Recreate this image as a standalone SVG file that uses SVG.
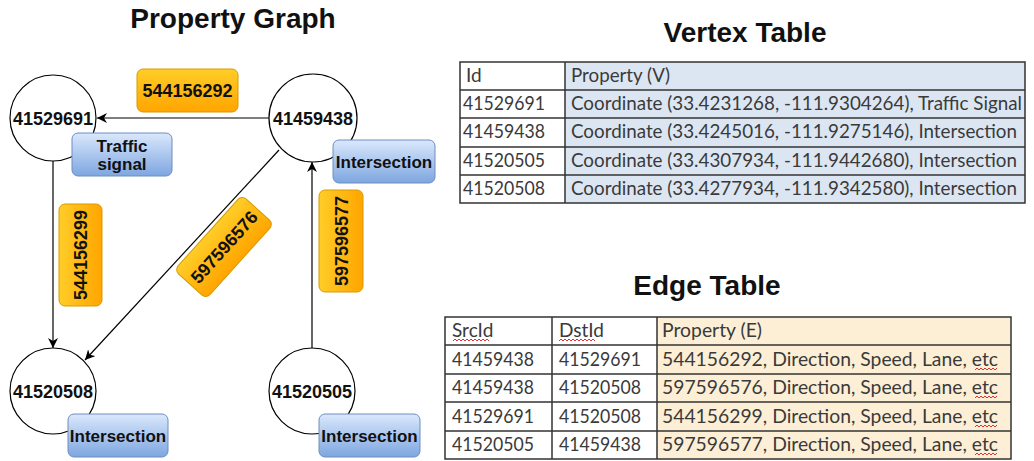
<svg xmlns="http://www.w3.org/2000/svg" width="1034" height="461" viewBox="0 0 1034 461">
<defs>
<linearGradient id="gOr" x1="0" y1="0" x2="0" y2="1"><stop offset="0" stop-color="#ffcd28"/><stop offset="1" stop-color="#ffa500"/></linearGradient>
<linearGradient id="gBl" x1="0" y1="0" x2="0" y2="1"><stop offset="0" stop-color="#dae8fc"/><stop offset="1" stop-color="#7ea6e0"/></linearGradient>
<marker id="arr" viewBox="0 0 10 10" refX="10" refY="5" markerWidth="10" markerHeight="10" markerUnits="userSpaceOnUse" orient="auto"><path d="M0,0 L10,5 L0,10 L3,5 Z" fill="#000"/></marker>
</defs>
<style>
.title{font-family:"Liberation Sans",Arial,sans-serif;font-weight:bold;font-size:28px;fill:#111;text-anchor:middle}
.circ{fill:#fff;stroke:#000;stroke-width:1.2}
.num{font-family:"Liberation Sans",Arial,sans-serif;font-weight:bold;font-size:18px;fill:#111;text-anchor:middle}
.lbl{fill:url(#gBl);stroke:#6c8ebf;stroke-width:1}
.lt{font-family:"Liberation Sans",Arial,sans-serif;font-weight:bold;font-size:17px;fill:#111;text-anchor:middle}
.ob{fill:url(#gOr);stroke:#d79b00;stroke-width:1}
.edge{stroke:#000;stroke-width:1.2;fill:none;marker-end:url(#arr)}
.tb{stroke:#333;stroke-width:1.5;fill:none}
.tt{font-family:Lato,Carlito,"Liberation Sans",sans-serif;font-size:19px;fill:#3a3a3a}
.sq{stroke:#e03030;stroke-width:1;fill:none}
</style>
<rect width="1034" height="461" fill="#fff"/>
<text class="title" x="233" y="28">Property Graph</text>
<text class="title" x="745" y="42">Vertex Table</text>
<text class="title" x="707" y="295">Edge Table</text>

<g id="connectors">
<line class="edge" x1="269" y1="118" x2="97" y2="118"/>
<line class="edge" x1="53" y1="161" x2="53" y2="348"/>
<line class="edge" x1="279" y1="150" x2="85" y2="360"/>
<line class="edge" x1="312" y1="348" x2="312" y2="162"/>
</g>

<g id="elabel-544156292"><rect class="ob" x="137" y="69" width="101" height="43" rx="6"/><text class="num" x="187.5" y="97">544156292</text></g>
<g id="elabel-544156299" transform="translate(80.5,255) rotate(-90)"><rect class="ob" x="-51" y="-21.5" width="102" height="43" rx="6"/><text class="num" x="0" y="6.5">544156299</text></g>
<g id="elabel-597596577" transform="translate(341,241) rotate(-90)"><rect class="ob" x="-51" y="-22" width="102" height="44" rx="6"/><text class="num" x="0" y="6.5">597596577</text></g>
<g id="elabel-597596576" transform="translate(224,247) rotate(-48)"><rect class="ob" x="-50.5" y="-21.5" width="101" height="43" rx="6"/><text class="num" x="0" y="6.5">597596576</text></g>

<g id="node-41529691"><circle class="circ" cx="53" cy="118" r="43"/><text class="num" x="53" y="125">41529691</text>
<rect class="lbl" x="72" y="133" width="100" height="43" rx="6"/><text class="lt" x="122" y="152">Traffic</text><text class="lt" x="122" y="170">signal</text></g>
<g id="node-41459438"><circle class="circ" cx="313" cy="118" r="44"/><text class="num" x="313" y="125">41459438</text>
<rect class="lbl" x="333" y="140" width="102" height="43" rx="6"/><text class="lt" x="384" y="168">Intersection</text></g>
<g id="node-41520508"><circle class="circ" cx="53" cy="391" r="43"/><text class="num" x="53" y="398">41520508</text>
<rect class="lbl" x="68" y="414" width="100" height="43" rx="6"/><text class="lt" x="118" y="442">Intersection</text></g>
<g id="node-41520505"><circle class="circ" cx="312" cy="391" r="43"/><text class="num" x="312" y="398">41520505</text>
<rect class="lbl" x="319" y="414" width="101" height="43" rx="6"/><text class="lt" x="369.5" y="442">Intersection</text></g>

<g id="vertex-table">
<rect x="565" y="62" width="460" height="141" fill="#dce6f2"/>
<rect class="tb" x="460" y="62" width="565" height="141"/>
<path class="tb" d="M460,90H1025M460,118H1025M460,147H1025M460,175H1025M565,62V203"/>
<text class="tt" x="466" y="82">Id</text>
<text class="tt" x="571" y="82" textLength="99" lengthAdjust="spacingAndGlyphs">Property (V)</text>
<text class="tt" x="463" y="110" textLength="82" lengthAdjust="spacingAndGlyphs">41529691</text>
<text class="tt" x="571" y="110" textLength="451" lengthAdjust="spacingAndGlyphs">Coordinate (33.4231268, -111.9304264), Traffic Signal</text>
<text class="tt" x="463" y="138" textLength="82" lengthAdjust="spacingAndGlyphs">41459438</text>
<text class="tt" x="571" y="138" textLength="446" lengthAdjust="spacingAndGlyphs">Coordinate (33.4245016, -111.9275146), Intersection</text>
<text class="tt" x="463" y="167" textLength="82" lengthAdjust="spacingAndGlyphs">41520505</text>
<text class="tt" x="571" y="167" textLength="446" lengthAdjust="spacingAndGlyphs">Coordinate (33.4307934, -111.9442680), Intersection</text>
<text class="tt" x="463" y="195" textLength="82" lengthAdjust="spacingAndGlyphs">41520508</text>
<text class="tt" x="571" y="195" textLength="446" lengthAdjust="spacingAndGlyphs">Coordinate (33.4277934, -111.9342580), Intersection</text>
</g>

<g id="edge-table">
<rect x="657" y="317" width="354" height="142" fill="#fdefd5"/>
<rect class="tb" x="445" y="317" width="566" height="142"/>
<path class="tb" d="M445,345H1011M445,374H1011M445,402H1011M445,431H1011M552,317V459M657,317V459"/>
<text class="tt" x="452" y="337">SrcId</text>
<text class="tt" x="559" y="337">DstId</text>
<text class="tt" x="662" y="337" textLength="100" lengthAdjust="spacingAndGlyphs">Property (E)</text>
<text class="tt" x="452" y="366" textLength="82" lengthAdjust="spacingAndGlyphs">41459438</text>
<text class="tt" x="559" y="366" textLength="82" lengthAdjust="spacingAndGlyphs">41529691</text>
<text class="tt" x="662" y="366" textLength="336" lengthAdjust="spacingAndGlyphs">544156292, Direction, Speed, Lane, etc</text>
<text class="tt" x="452" y="394" textLength="82" lengthAdjust="spacingAndGlyphs">41459438</text>
<text class="tt" x="559" y="394" textLength="82" lengthAdjust="spacingAndGlyphs">41520508</text>
<text class="tt" x="662" y="394" textLength="336" lengthAdjust="spacingAndGlyphs">597596576, Direction, Speed, Lane, etc</text>
<text class="tt" x="452" y="423" textLength="82" lengthAdjust="spacingAndGlyphs">41529691</text>
<text class="tt" x="559" y="423" textLength="82" lengthAdjust="spacingAndGlyphs">41520508</text>
<text class="tt" x="662" y="423" textLength="336" lengthAdjust="spacingAndGlyphs">544156299, Direction, Speed, Lane, etc</text>
<text class="tt" x="452" y="451" textLength="82" lengthAdjust="spacingAndGlyphs">41520505</text>
<text class="tt" x="559" y="451" textLength="82" lengthAdjust="spacingAndGlyphs">41459438</text>
<text class="tt" x="662" y="451" textLength="336" lengthAdjust="spacingAndGlyphs">597596577, Direction, Speed, Lane, etc</text>
<path class="sq" d="M453,341l2,-2l2,2l2,-2l2,2l2,-2l2,2l2,-2l2,2l2,-2l2,2l2,-2l2,2l2,-2l2,2l2,-2l2,2l2,-2l2,2M559,341l2,-2l2,2l2,-2l2,2l2,-2l2,2l2,-2l2,2l2,-2l2,2l2,-2l2,2l2,-2l2,2l2,-2l2,2l2,-2l2,2"/>
<path class="sq" d="M975,370l2,-2l2,2l2,-2l2,2l2,-2l2,2l2,-2l2,2l2,-2l2,2l2,-2M975,398l2,-2l2,2l2,-2l2,2l2,-2l2,2l2,-2l2,2l2,-2l2,2l2,-2M975,427l2,-2l2,2l2,-2l2,2l2,-2l2,2l2,-2l2,2l2,-2l2,2l2,-2M975,455l2,-2l2,2l2,-2l2,2l2,-2l2,2l2,-2l2,2l2,-2l2,2l2,-2"/>
</g>
</svg>
